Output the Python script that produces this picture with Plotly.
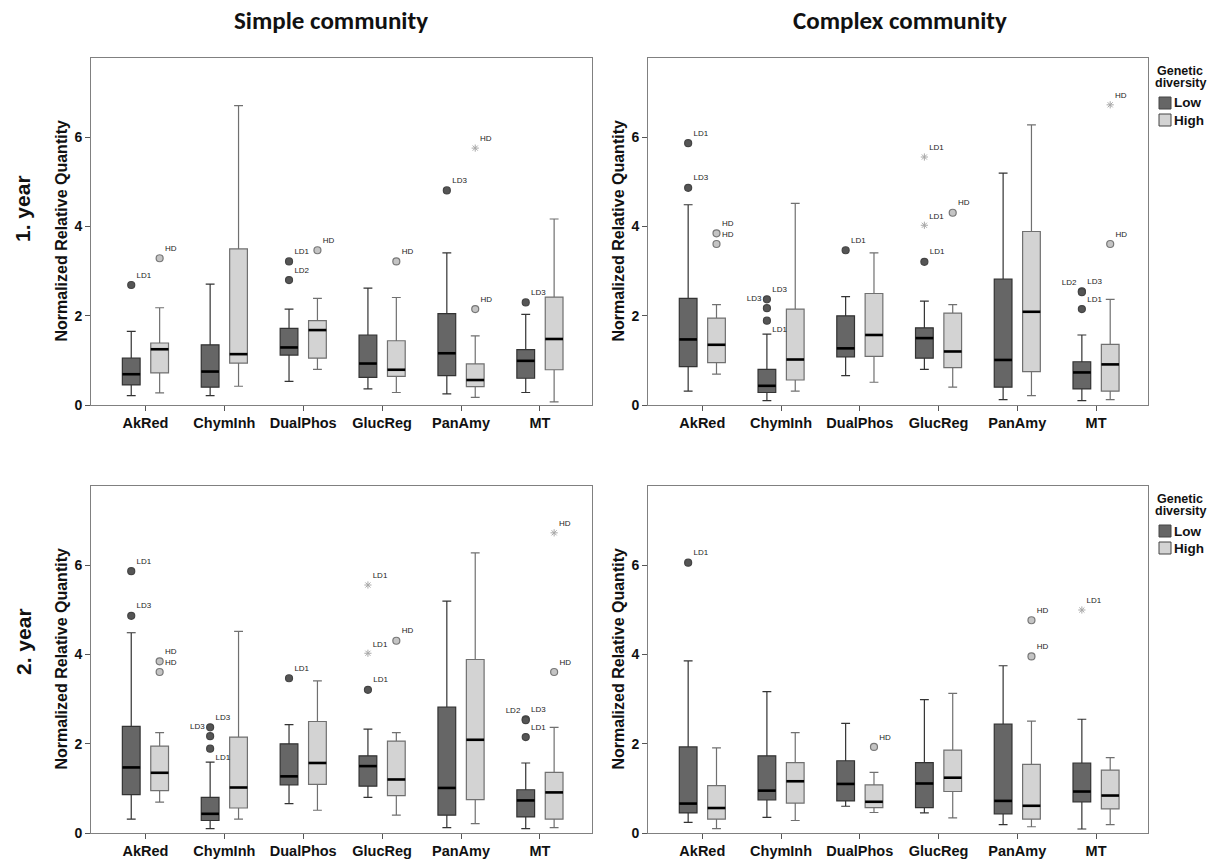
import plotly.graph_objects as go

# ---------------- data ----------------
GENES = ["AkRed", "ChymInh", "DualPhos", "GlucReg", "PanAmy", "MT"]
GROUPS = ["Low", "High"]
Y_TICKS = [0, 2, 4, 6]

# Simple community, 1. year
S1_LOW_WLO = [0.21, 0.21, 0.53, 0.36, 0.25, 0.28]
S1_LOW_Q1 = [0.45, 0.40, 1.12, 0.62, 0.66, 0.60]
S1_LOW_MED = [0.69, 0.75, 1.29, 0.93, 1.16, 0.99]
S1_LOW_Q3 = [1.05, 1.35, 1.72, 1.57, 2.05, 1.24]
S1_LOW_WHI = [1.65, 2.71, 2.15, 2.62, 3.41, 2.03]
S1_HIGH_WLO = [0.27, 0.42, 0.80, 0.28, 0.17, 0.07]
S1_HIGH_Q1 = [0.72, 0.94, 1.05, 0.64, 0.41, 0.79]
S1_HIGH_MED = [1.25, 1.14, 1.68, 0.79, 0.56, 1.48]
S1_HIGH_Q3 = [1.39, 3.50, 1.89, 1.44, 0.92, 2.42]
S1_HIGH_WHI = [2.18, 6.71, 2.39, 2.41, 1.55, 4.17]
S1_OUT_GENE = [0, 0, 2, 2, 2, 3, 4, 4, 4, 5]
S1_OUT_GROUP = [0, 1, 0, 0, 1, 1, 0, 1, 1, 0]
S1_OUT_VAL = [2.69, 3.29, 3.22, 2.80, 3.47, 3.22, 4.81, 2.15, 5.76, 2.30]
S1_OUT_LABEL = ["LD1", "HD", "LD1", "LD2", "HD", "HD", "LD3", "HD", "HD", "LD3"]
S1_OUT_KIND = ["o", "o", "o", "o", "o", "o", "o", "o", "*", "o"]

# Complex community, 1. year
C1_LOW_WLO = [0.31, 0.10, 0.66, 0.80, 0.12, 0.10]
C1_LOW_Q1 = [0.86, 0.28, 1.08, 1.05, 0.40, 0.36]
C1_LOW_MED = [1.47, 0.43, 1.27, 1.50, 1.01, 0.73]
C1_LOW_Q3 = [2.39, 0.80, 2.00, 1.73, 2.82, 0.97]
C1_LOW_WHI = [4.49, 1.59, 2.43, 2.33, 5.20, 1.57]
C1_HIGH_WLO = [0.69, 0.31, 0.51, 0.40, 0.21, 0.12]
C1_HIGH_Q1 = [0.95, 0.56, 1.09, 0.84, 0.75, 0.31]
C1_HIGH_MED = [1.35, 1.02, 1.57, 1.20, 2.09, 0.91]
C1_HIGH_Q3 = [1.95, 2.15, 2.50, 2.06, 3.89, 1.36]
C1_HIGH_WHI = [2.25, 4.52, 3.41, 2.25, 6.28, 2.37]
C1_OUT_GENE = [0, 0, 0, 0, 1, 1, 1, 2, 3, 3, 3, 3, 5, 5, 5, 5, 5]
C1_OUT_GROUP = [0, 0, 1, 1, 0, 0, 0, 0, 0, 0, 0, 1, 0, 0, 0, 1, 1]
C1_OUT_VAL = [5.87, 4.87, 3.85, 3.61, 2.37, 2.17, 1.89, 3.47, 5.56, 4.03, 3.21,
              4.31, 2.55, 2.53, 2.15, 3.61, 6.73]
C1_OUT_LABEL = ["LD1", "LD3", "HD", "HD", "LD3", "LD3", "LD1", "LD1", "LD1", "LD1",
                "LD1", "HD", "LD3", "LD2", "LD1", "HD", "HD"]
C1_OUT_KIND = ["o", "o", "o", "o", "o", "o", "o", "o", "*", "*", "o", "o", "o", "o",
               "o", "o", "*"]

# Simple community, 2. year (the published panel repeats the values above)
S2_LOW_WLO = [0.31, 0.10, 0.66, 0.80, 0.12, 0.10]
S2_LOW_Q1 = [0.86, 0.28, 1.08, 1.05, 0.40, 0.36]
S2_LOW_MED = [1.47, 0.43, 1.27, 1.50, 1.01, 0.73]
S2_LOW_Q3 = [2.39, 0.80, 2.00, 1.73, 2.82, 0.97]
S2_LOW_WHI = [4.49, 1.59, 2.43, 2.33, 5.20, 1.57]
S2_HIGH_WLO = [0.69, 0.31, 0.51, 0.40, 0.21, 0.12]
S2_HIGH_Q1 = [0.95, 0.56, 1.09, 0.84, 0.75, 0.31]
S2_HIGH_MED = [1.35, 1.02, 1.57, 1.20, 2.09, 0.91]
S2_HIGH_Q3 = [1.95, 2.15, 2.50, 2.06, 3.89, 1.36]
S2_HIGH_WHI = [2.25, 4.52, 3.41, 2.25, 6.28, 2.37]
S2_OUT_GENE = list(C1_OUT_GENE)
S2_OUT_GROUP = list(C1_OUT_GROUP)
S2_OUT_VAL = list(C1_OUT_VAL)
S2_OUT_LABEL = list(C1_OUT_LABEL)
S2_OUT_KIND = list(C1_OUT_KIND)

# Complex community, 2. year
C2_LOW_WLO = [0.24, 0.35, 0.60, 0.45, 0.19, 0.09]
C2_LOW_Q1 = [0.45, 0.74, 0.72, 0.57, 0.43, 0.70]
C2_LOW_MED = [0.66, 0.95, 1.10, 1.11, 0.72, 0.93]
C2_LOW_Q3 = [1.93, 1.73, 1.62, 1.58, 2.44, 1.57]
C2_LOW_WHI = [3.86, 3.17, 2.46, 2.99, 3.75, 2.55]
C2_HIGH_WLO = [0.10, 0.28, 0.46, 0.34, 0.14, 0.19]
C2_HIGH_Q1 = [0.31, 0.67, 0.57, 0.93, 0.31, 0.54]
C2_HIGH_MED = [0.56, 1.16, 0.70, 1.24, 0.61, 0.84]
C2_HIGH_Q3 = [1.06, 1.58, 1.08, 1.86, 1.54, 1.41]
C2_HIGH_WHI = [1.91, 2.25, 1.36, 3.13, 2.51, 1.69]
C2_OUT_GENE = [0, 2, 4, 4, 5]
C2_OUT_GROUP = [0, 1, 1, 1, 0]
C2_OUT_VAL = [6.06, 1.93, 3.96, 4.77, 5.00]
C2_OUT_LABEL = ["LD1", "HD", "HD", "HD", "LD1"]
C2_OUT_KIND = ["o", "o", "o", "o", "*"]

LEGEND_TITLE = ["Genetic", "diversity"]

# ---------------- styling ----------------
W, H = 1212, 860
FILL = {0: "#666666", 1: "#d3d3d3"}
EDGE = {0: "#333333", 1: "#707070"}
OUT_FILL = {0: "#555555", 1: "#c4c4c4"}
OUT_EDGE = {0: "#444444", 1: "#777777"}
STAR = "#a8a8a8"
OFFSET = 0.18
BOXW = 0.225
SANS = "Liberation Sans, Arial"
XRANGE = [-0.69, 5.66]
YRANGE = [0, 7.78]

# label placement overrides (panel, outlier index) -> textposition
LABEL_POS = {
    ("C1", 5): "top left", ("C1", 6): "bottom right", ("C1", 13): "top left",
    ("S2", 5): "top left", ("S2", 6): "bottom right", ("S2", 13): "top left",
}

# panel pixel boxes (left, right, top, bottom)
PANELS = [
    ("S1", 1, (91, 592, 58, 405)),
    ("C1", 2, (648, 1148, 58, 405)),
    ("S2", 3, (91, 592, 486, 833)),
    ("C2", 4, (648, 1148, 486, 833)),
]
G = globals()


def px(xp):
    return xp / W


def py(yp):
    return 1 - yp / H


fig = go.Figure()
for key, n, (l, r, t, b) in PANELS:
    xa = "x" if n == 1 else f"x{n}"
    ya = "y" if n == 1 else f"y{n}"
    for gi, gname in enumerate(GROUPS):
        gk = "LOW" if gi == 0 else "HIGH"
        xs = [i + (-OFFSET if gi == 0 else OFFSET) for i in range(len(GENES))]
        fig.add_trace(go.Box(
            x=xs, name=gname,
            q1=G[f"{key}_{gk}_Q1"], median=G[f"{key}_{gk}_MED"],
            q3=G[f"{key}_{gk}_Q3"], lowerfence=G[f"{key}_{gk}_WLO"],
            upperfence=G[f"{key}_{gk}_WHI"],
            width=BOXW, whiskerwidth=0.5, fillcolor=FILL[gi],
            line=dict(color=EDGE[gi], width=1.2), boxpoints=False,
            showlegend=False, hoverinfo="skip", xaxis=xa, yaxis=ya,
        ))
        # median bars
        mx, my = [], []
        for xc, m in zip(xs, G[f"{key}_{gk}_MED"]):
            mx += [xc - BOXW / 2, xc + BOXW / 2, None]
            my += [m, m, None]
        fig.add_trace(go.Scatter(x=mx, y=my, mode="lines",
                                 line=dict(color="#000000", width=2.6),
                                 showlegend=False, hoverinfo="skip",
                                 xaxis=xa, yaxis=ya))
    # outliers
    genes = G[f"{key}_OUT_GENE"]
    groups = G[f"{key}_OUT_GROUP"]
    vals = G[f"{key}_OUT_VAL"]
    labels = G[f"{key}_OUT_LABEL"]
    kinds = G[f"{key}_OUT_KIND"]
    for k in range(len(vals)):
        gi = groups[k]
        xc = genes[k] + (-OFFSET if gi == 0 else OFFSET)
        pos = LABEL_POS.get((key, k), "top right")
        if kinds[k] == "*":
            marker = dict(symbol="asterisk-open", size=6, color=STAR,
                          line=dict(color=STAR, width=1))
        else:
            marker = dict(symbol="circle", size=7, color=OUT_FILL[gi],
                          line=dict(color=OUT_EDGE[gi], width=1.2))
        fig.add_trace(go.Scatter(
            x=[xc], y=[vals[k]], mode="markers+text", text=[labels[k]],
            textposition=pos, textfont=dict(family=SANS, size=8, color="#222222"),
            marker=marker, showlegend=False, hoverinfo="skip",
            cliponaxis=False, xaxis=xa, yaxis=ya))

    axis_common = dict(showgrid=False, zeroline=False, showline=True,
                       linecolor="#808080", linewidth=1, mirror=True,
                       ticks="outside", ticklen=5, tickcolor="#555555",
                       automargin=False)
    fig.update_layout(**{
        ("xaxis" if n == 1 else f"xaxis{n}"): dict(
            domain=[px(l), px(r)], anchor=ya, range=XRANGE,
            tickvals=list(range(len(GENES))), ticktext=GENES, tickangle=0,
            tickfont=dict(family=SANS, size=14.5, color="#111111", weight="bold"),
            **axis_common),
        ("yaxis" if n == 1 else f"yaxis{n}"): dict(
            domain=[py(b), py(t)], anchor=xa, range=YRANGE,
            tickvals=Y_TICKS, ticktext=[str(v) for v in Y_TICKS],
            tickfont=dict(family=SANS, size=14, color="#111111", weight="bold"),
            **axis_common),
    })
    # y-axis title
    fig.add_annotation(text="<b>Normalized Relative Quantity</b>", xref="paper",
                       yref="paper", x=px(l - 30), y=py((t + b) / 2),
                       textangle=-90, showarrow=False, xanchor="center",
                       yanchor="middle",
                       font=dict(family=SANS, size=16, color="#111111"))

# legends next to the right-hand panels (title, swatches, labels)
for (key, n, (l, r, t, b)) in PANELS:
    if n not in (2, 4):
        continue
    for li, line in enumerate(LEGEND_TITLE):
        fig.add_annotation(text=f"<b>{line}</b>", xref="paper", yref="paper",
                           x=px(r + 32), y=py(t + 13 + li * 12), showarrow=False,
                           xanchor="center", yanchor="middle",
                           font=dict(family=SANS, size=12.5, color="#111111"))
    for gi, gname in enumerate(GROUPS):
        yc = t + 45 + gi * 17
        fig.add_shape(type="rect", xref="paper", yref="paper",
                      x0=px(r + 11), x1=px(r + 23), y0=py(yc - 6), y1=py(yc + 6),
                      fillcolor=FILL[gi], line=dict(color="#444444", width=1))
        fig.add_annotation(text=f"<b>{gname}</b>", xref="paper", yref="paper",
                           x=px(r + 24), y=py(yc), showarrow=False,
                           xanchor="left", yanchor="middle",
                           font=dict(family=SANS, size=13.5, color="#111111"))

# column and row titles
for txt, xc in [("Simple community", 331), ("Complex community", 900)]:
    fig.add_annotation(text=f"<b>{txt}</b>", xref="paper", yref="paper",
                       x=px(xc), y=py(20), showarrow=False,
                       xanchor="center", yanchor="middle",
                       font=dict(family="Carlito, Lato, Open Sans", size=25,
                                 color="#111111"))
for txt, yc in [("1. year", 209), ("2. year", 642)]:
    fig.add_annotation(text=f"<b>{txt}</b>", xref="paper", yref="paper",
                       x=px(23), y=py(yc), showarrow=False, textangle=-90,
                       xanchor="center", yanchor="middle",
                       font=dict(family=SANS, size=21, color="#111111"))

fig.update_layout(width=W, height=H, margin=dict(l=0, r=0, t=0, b=0),
                  paper_bgcolor="white", plot_bgcolor="white",
                  template="none", showlegend=False)

fig.write_html("out.html", config={"displayModeBar": False},
               post_script="document.body.style.margin='0';"
                           "document.body.style.overflow='hidden';")
